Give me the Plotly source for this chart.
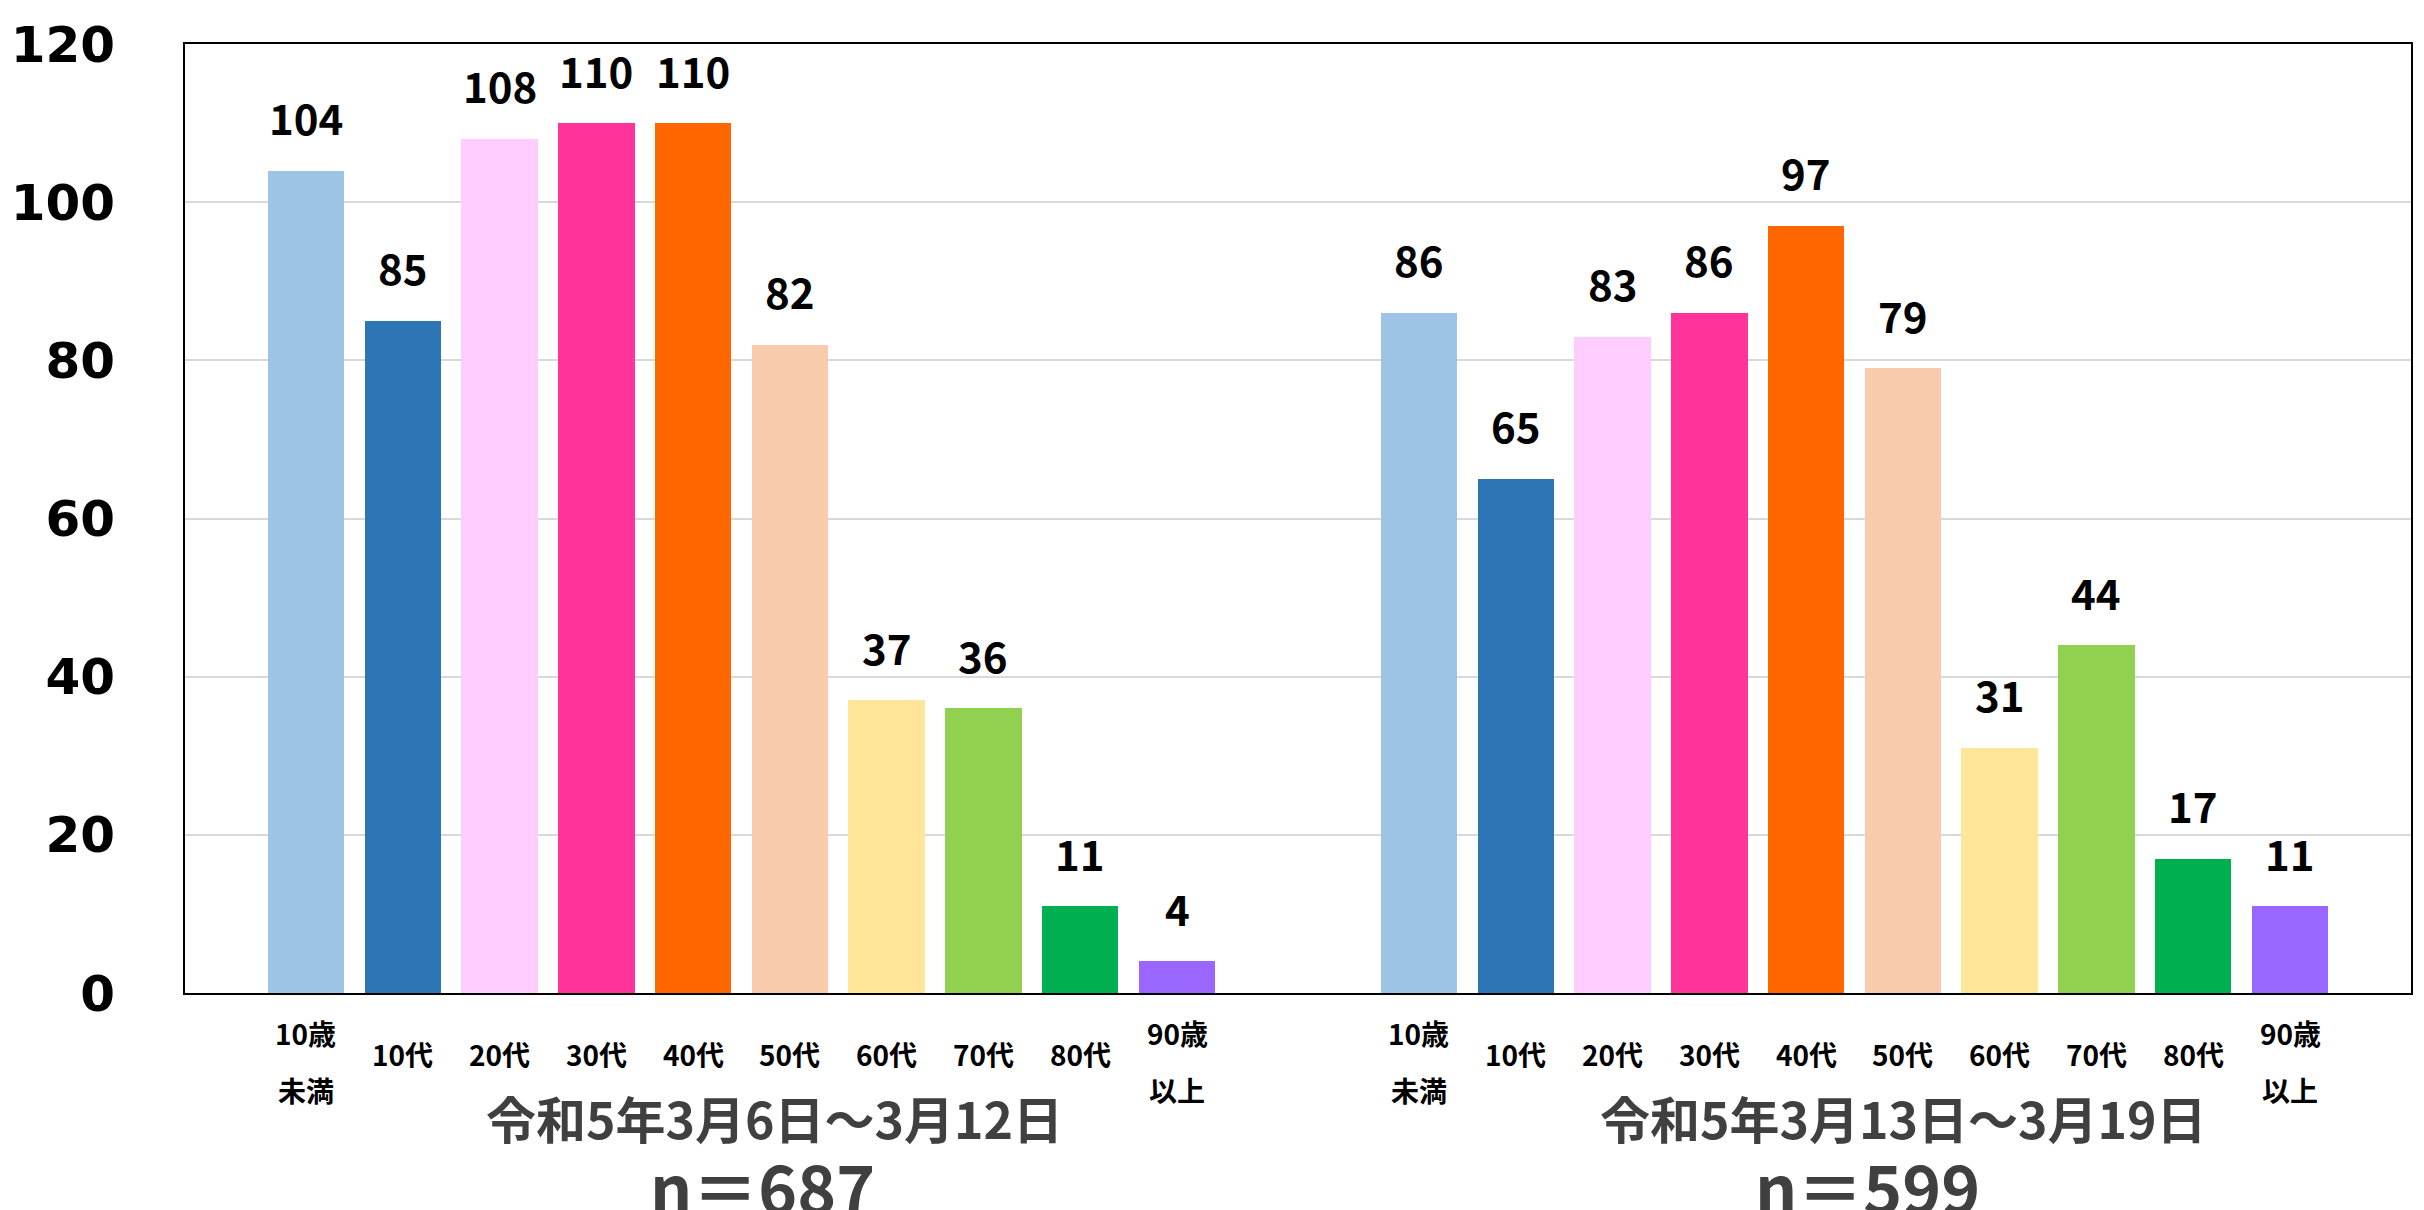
import plotly.graph_objects as go

categories = [["10歳", "未満"], ["10代"], ["20代"], ["30代"], ["40代"], ["50代"],
              ["60代"], ["70代"], ["80代"], ["90歳", "以上"]]
colors = ["#9DC3E6", "#2E75B6", "#FFCCFF", "#FF3399", "#FF6600",
          "#F8CBAD", "#FFE699", "#92D050", "#00B050", "#9966FF"]
group_titles = ["令和5年3月6日～3月12日", "令和5年3月13日～3月19日"]
group_n = ["n＝687", "n＝599"]
values_g1 = [104, 85, 108, 110, 110, 82, 37, 36, 11, 4]
values_g2 = [86, 65, 83, 86, 97, 79, 31, 44, 17, 11]
y_ticks = [0, 20, 40, 60, 80, 100, 120]

groups = [values_g1, values_g2]
group_offset = 11.5
title_shift = [0.34, 0.51]
n_shift = [0.22, 0.13]

fig = go.Figure()
annotations = []
CJK = "Noto Sans CJK JP"

for g, vals in enumerate(groups):
    xs = [i + g * group_offset for i in range(len(vals))]
    fig.add_trace(go.Bar(
        x=xs, y=vals, width=0.79,
        marker=dict(color=colors, line=dict(width=0)),
        showlegend=False, hoverinfo="skip",
    ))
    for x, v in zip(xs, vals):
        annotations.append(dict(
            x=x, y=v, xref="x", yref="y", text=str(v), showarrow=False,
            yanchor="middle", yshift=54,
            font=dict(family=CJK, size=42, color="#000000", weight="bold"),
        ))
    for x, lines in zip(xs, categories):
        if len(lines) == 1:
            shifts = [-61]
        else:
            shifts = [-40, -97]
        for line, s in zip(lines, shifts):
            annotations.append(dict(
                x=x, y=0, xref="x", yref="paper", text=line, showarrow=False,
                yanchor="middle", yshift=s,
                font=dict(family=CJK, size=28, color="#000000", weight="bold"),
            ))
    center = (xs[0] + xs[-1]) / 2
    annotations.append(dict(
        x=center + title_shift[g], y=0, xref="x", yref="paper", text=group_titles[g],
        showarrow=False, yanchor="middle", yshift=-124,
        font=dict(family=CJK, size=50, color="#404040", weight="bold"),
    ))
    annotations.append(dict(
        x=center + n_shift[g], y=0, xref="x", yref="paper", text=group_n[g],
        showarrow=False, yanchor="middle", yshift=-192,
        font=dict(family=CJK, size=66, color="#404040", weight="bold"),
    ))

fig.update_layout(
    width=2424, height=1210,
    margin=dict(l=182, r=11, t=44, b=217),
    paper_bgcolor="white", plot_bgcolor="white",
    annotations=annotations,
    bargap=0,
    xaxis=dict(range=[-1.25, 21.75], showticklabels=False, showgrid=False,
               zeroline=False, showline=True, linecolor="#000000", linewidth=2,
               mirror=True, fixedrange=True),
    yaxis=dict(range=[0, 120], tickvals=y_ticks, ticktext=[str(t) for t in y_ticks],
               showgrid=True, gridcolor="#D9D9D9", gridwidth=2,
               zeroline=False, showline=True, linecolor="#000000", linewidth=2,
               mirror=True, ticks="", ticklabelstandoff=58,
               tickfont=dict(family="DejaVu Sans", size=50, color="#000000", weight="bold"),
               fixedrange=True),
)

fig.write_html("out.html", config={"displayModeBar": False},
               post_script="document.body.style.margin='0';document.body.style.overflow='hidden';")
